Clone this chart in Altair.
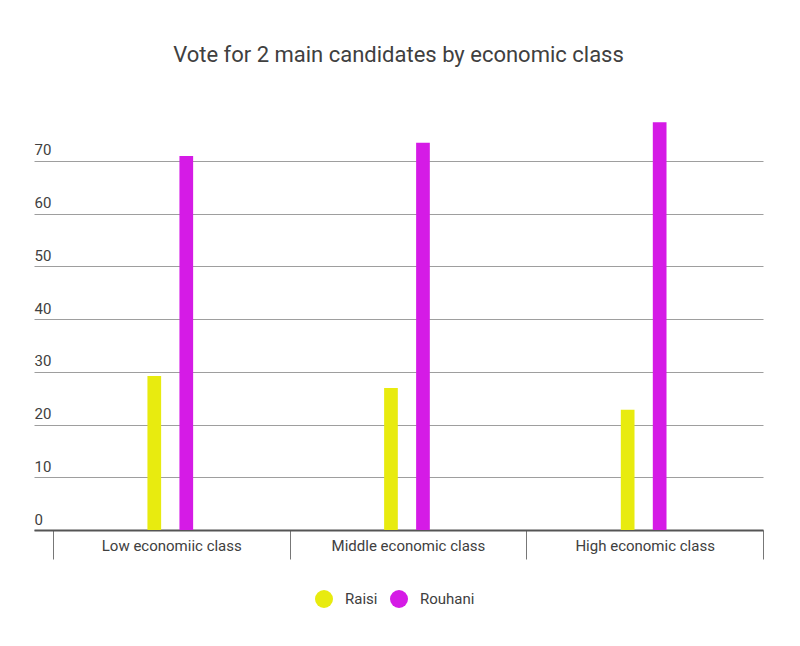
import altair as alt
import pandas as pd

classes = ["Low economiic class", "Middle economic class", "High economic class"]
candidates = ["Raisi", "Rouhani"]
raisi = [29.2, 26.9, 22.8]
rouhani = [70.9, 73.4, 77.3]
y_ticks = [0, 10, 20, 30, 40, 50, 60, 70]
colors = ["#E8EB0F", "#D51BE6"]

rows = []
for c, r, h in zip(classes, raisi, rouhani):
    rows.append({"cls": c, "candidate": "Raisi", "value": r})
    rows.append({"cls": c, "candidate": "Rouhani", "value": h})
df = pd.DataFrame(rows)

FONT = "Roboto"
TXT = "#404040"

chart = alt.Chart(df).mark_bar(width=13.7).encode(
    x=alt.X("cls:N", sort=classes, title=None,
            scale=alt.Scale(paddingInner=0, paddingOuter=0.04, align=1),
            axis=alt.Axis(labelAngle=0, tickBand="extent", tickSize=29,
                          tickColor="#777777", tickWidth=1,
                          domainColor="#555555", domainWidth=2,
                          labelFont=FONT, labelFontSize=15, labelColor=TXT,
                          labelPadding=-14, labelBaseline="middle",
                          grid=False)),
    xOffset=alt.XOffset("candidate:N", sort=candidates,
                        scale=alt.Scale(range=[85.35, 149.35],
                                        paddingInner=0, paddingOuter=0)),
    y=alt.Y("value:Q", title=None,
            scale=alt.Scale(domain=[0, 80], nice=False),
            axis=alt.Axis(values=y_ticks, domain=False, ticks=False, tickSize=0,
                          labelAlign="left", labelPadding=0,
                          labelBaseline="alphabetic", labelOffset=-6,
                          labelFont=FONT, labelFontSize=15, labelColor=TXT,
                          gridColor="#9E9E9E", gridWidth=1)),
    color=alt.Color("candidate:N", sort=candidates, title=None,
                    scale=alt.Scale(domain=candidates, range=colors),
                    legend=alt.Legend(orient="none", legendX=281, legendY=482,
                                      direction="horizontal", symbolType="circle",
                                      symbolSize=324, symbolStrokeWidth=0,
                                      labelFont=FONT, labelFontSize=15,
                                      labelColor=TXT, labelOffset=12,
                                      columnPadding=12, padding=0)),
).properties(
    width=729,
    height=422,
    background="white",
    title=alt.Title("Vote for 2 main candidates by economic class",
                    font=FONT, fontSize=22, fontWeight="normal", color=TXT,
                    anchor="middle", baseline="alphabetic", offset=24),
    autosize=alt.AutoSizeParams(type="none"),
    padding={"left": 26, "top": 100, "right": 29, "bottom": 100},
).configure_view(strokeWidth=0, stroke=None)

chart.save("out.html", embed_options={"renderer": "svg", "actions": False})
